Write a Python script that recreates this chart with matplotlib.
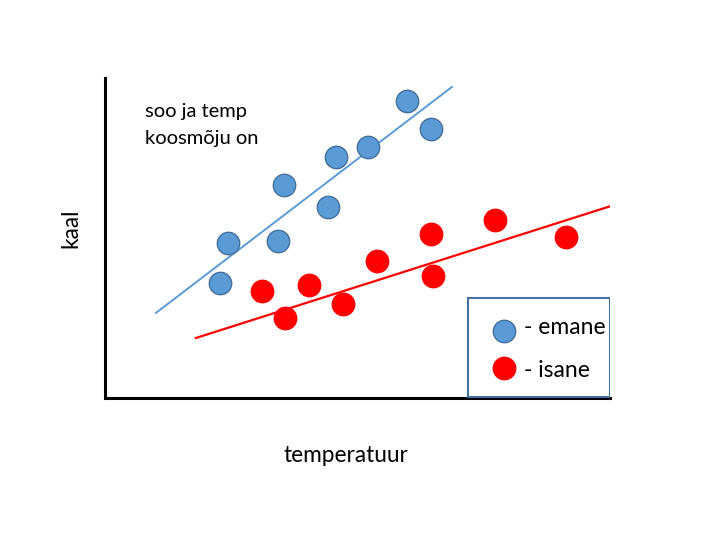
import matplotlib
matplotlib.use("Agg")
import matplotlib.pyplot as plt
from matplotlib.patches import Rectangle

# data (arbitrary units, 0-100 on both axes)
emane_x = [22.8, 24.4, 34.3, 35.4, 44.2, 45.7, 52.1, 59.8, 64.6]
emane_y = [35.9, 48.4, 49.1, 66.6, 59.7, 75.3, 78.4, 92.8, 84.1]
isane_x = [31.1, 35.6, 40.4, 47.1, 53.9, 64.6, 65.0, 77.2, 91.3]
isane_y = [33.4, 25.0, 35.3, 29.4, 42.8, 51.3, 38.1, 55.6, 50.3]
emane_line_x = [10.1, 68.7]
emane_line_y = [26.6, 97.2]
isane_line_x = [18.0, 100.2]
isane_line_y = [18.75, 60.0]
labels = ["- emane", "- isane"]
note_lines = ["soo ja temp", "koosmõju on"]

BLUE = "#5B9BD5"
BLUE_EDGE = "#41719C"
RED = "#FF0000"
FONT = "Lato"

fig = plt.figure(figsize=(7.2, 5.4), dpi=100)
ax = fig.add_axes([105/720, 142/540, 505/720, 320/540])
ax.set_xlim(0, 100)
ax.set_ylim(0, 100)

ax.plot(emane_line_x, emane_line_y, color=BLUE, lw=1.4, zorder=2)
ax.plot(isane_line_x, isane_line_y, color=RED, lw=1.6, zorder=2)
ax.scatter(emane_x, emane_y, s=260, color=BLUE, edgecolor=BLUE_EDGE, linewidth=1.0, zorder=3)
ax.scatter(isane_x, isane_y, s=260, color=RED, edgecolor=RED, linewidth=1.0, zorder=3)

for side in ["top", "right"]:
    ax.spines[side].set_visible(False)
for side in ["left", "bottom"]:
    ax.spines[side].set_linewidth(2.2)
    ax.spines[side].set_color("black")
ax.set_xticks([])
ax.set_yticks([])

ax.text(7.9, 87.8, note_lines[0], ha="left", va="baseline", fontsize=14.5, family=FONT)
ax.text(7.9, 79.4, note_lines[1], ha="left", va="baseline", fontsize=14.5, family=FONT)

fig.text(346/720, 1 - 462/540, "temperatuur", ha="center", va="baseline",
         fontsize=16.3, family=FONT)
fig.text(71/720, 1 - 228/540, "kaal", ha="center", va="center", rotation=90,
         fontsize=16.3, family=FONT)

# legend box
ax.add_patch(Rectangle((0.719, 0.003), 0.281, 0.31, transform=ax.transAxes,
                       fill=False, edgecolor=BLUE_EDGE, lw=1.5, zorder=4))
ax.scatter([0.790], [0.209], s=260, color=BLUE, edgecolor=BLUE_EDGE, linewidth=1.0,
           transform=ax.transAxes, zorder=5)
ax.scatter([0.790], [0.095], s=260, color=RED, edgecolor=RED, linewidth=1.0,
           transform=ax.transAxes, zorder=5)
ax.text(0.830, 0.200, labels[0], transform=ax.transAxes, va="baseline", ha="left",
        fontsize=16.5, family=FONT)
ax.text(0.830, 0.066, labels[1], transform=ax.transAxes, va="baseline", ha="left",
        fontsize=16.5, family=FONT)

fig.savefig("out.png", dpi=100)
